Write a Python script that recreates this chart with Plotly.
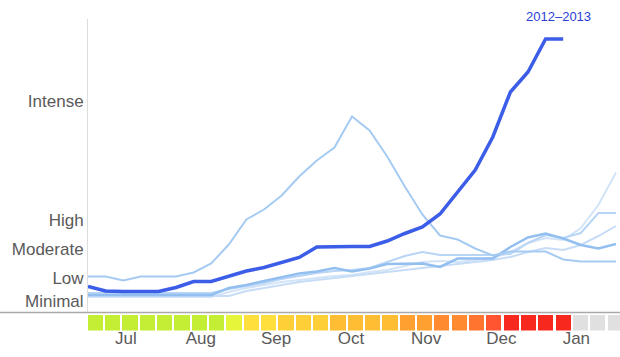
import plotly.graph_objects as go

# ---------------- data ----------------
# weekly activity index (same scale for all seasons); week index 0..30
season_2012_13 = [2.6, 2.15, 2.1, 2.1, 2.1, 2.5, 3.1, 3.1, 3.6, 4.15, 4.5, 5.0, 5.5, 6.55, 6.6,
                  6.6, 6.6, 7.15, 7.9, 8.55, 9.85, 12.05, 14.25, 17.55, 22.05, 24.05, 27.35, 27.35]

season_2009_10 = [3.6, 3.6, 3.2, 3.6, 3.6, 3.6, 4.0, 4.9, 6.8, 9.3, 10.3, 11.7, 13.6, 15.2, 16.5,
                  19.6, 18.2, 15.6, 12.6, 9.8, 7.7, 7.3, 6.4, 5.7, 6.1, 6.1, 6.1, 5.3, 5.1, 5.1, 5.1]
season_b = [1.75, 1.75, 1.75, 1.75, 1.75, 1.75, 1.75, 1.75, 2.45, 2.75, 3.15, 3.55, 3.9, 4.1, 4.45,
            4.1, 4.4, 4.85, 4.9, 4.9, 4.55, 5.4, 5.4, 5.4, 6.55, 7.5, 7.9, 7.4, 6.75, 6.4, 6.85]
season_d = [1.55, 1.55, 1.55, 1.55, 1.55, 1.55, 1.55, 1.55, 2.05, 2.45, 2.75, 3.05, 3.25, 3.45, 3.65,
            3.75, 4.05, 4.25, 4.65, 5.05, 5.15, 5.05, 5.25, 5.45, 6.05, 6.95, 7.45, 7.25, 8.45, 10.75, 14.0]
season_e = [1.95, 1.95, 1.95, 1.95, 1.95, 1.95, 1.95, 1.95, 2.35, 2.65, 2.95, 3.35, 3.65, 3.95, 4.15,
            4.25, 4.45, 5.05, 5.65, 6.05, 5.75, 5.75, 5.75, 5.75, 5.85, 6.95, 7.75, 7.45, 7.95, 9.95, 9.95]
season_f = [1.65, 1.65, 1.65, 1.65, 1.65, 1.65, 1.65, 1.65, 1.65, 2.15, 2.45, 2.75, 3.05, 3.25, 3.45,
            3.65, 3.85, 4.05, 4.25, 4.45, 4.65, 4.85, 5.05, 5.25, 5.55, 6.05, 6.45, 6.25, 6.75, 7.65, 8.65]

level_names = ["Minimal", "Low", "Moderate", "High", "Intense"]
level_values = [1.15, 3.4, 6.35, 9.25, 21.1]

# weekly activity level of the current season (1..10); None = no data yet
activity_levels = [1, 1, 1, 1, 1, 1, 1, 1, 2, 3, 3, 4, 4, 4, 5, 5, 5, 5, 6, 6, 7, 7, 8, 9,
                   10, 10, 10, 10, None, None, None]

month_labels = ["Jul", "Aug", "Sep", "Oct", "Nov", "Dec", "Jan"]
month_positions = [1.76, 6.09, 10.43, 14.76, 19.09, 23.43, 27.76]

# ---------------- styles ----------------
level_palette = {1: "#c3ee33", 2: "#e6f43a", 3: "#ffdf3c", 4: "#ffcf38", 5: "#ffbd33",
                 6: "#ffa030", 7: "#ff8a30", 8: "#ff7530", 9: "#ff5530", 10: "#f7281e"}
no_data_color = "#e0e0e0"
FONT = "Helvetica Neue, Liberation Sans, Arial, sans-serif"
TEXT_COLOR = "#5a5a5a"

W, H = 620, 357
left_px = 88
plot_top_px, plot_bottom_px = 18.5, 312.5
sq_top_px, sq_bottom_px = 315, 330.5

fig = go.Figure()

past = [
    (season_d, "#d3e4f8", 2),
    (season_f, "#c6dcf7", 2),
    (season_e, "#b9d5f5", 2),
    (season_b, "#93bff0", 2.5),
    (season_2009_10, "#a6cbf3", 2),
]
for vals, col, w in past:
    fig.add_trace(go.Scatter(x=list(range(len(vals))), y=vals, mode="lines",
                             line=dict(color=col, width=w), hoverinfo="skip",
                             showlegend=False))

fig.add_trace(go.Scatter(x=list(range(len(season_2012_13))), y=season_2012_13, mode="lines",
                         line=dict(color="#3b5de7", width=3.5), hoverinfo="skip",
                         showlegend=False))

sq_colors = [level_palette[l] if l is not None else no_data_color for l in activity_levels]
fig.add_trace(go.Bar(x=list(range(len(activity_levels))), y=[1] * len(activity_levels),
                     marker=dict(color=sq_colors, line=dict(width=0)), width=0.88,
                     xaxis="x2", yaxis="y2", hoverinfo="skip", showlegend=False))

fig.add_annotation(text="2012–2013", x=len(season_2012_13) - 1, xshift=-5,
                   xref="x", yref="paper", y=(H - 16.5) / H, yanchor="middle",
                   showarrow=False, font=dict(family=FONT, size=13, color="#2a3ed6"))

# baseline across the full width
fig.add_shape(type="line", xref="paper", yref="paper", x0=0, x1=1,
              y0=(H - plot_bottom_px) / H, y1=(H - plot_bottom_px) / H,
              line=dict(color="#a9a9a9", width=1.5))

fig.update_layout(
    width=W, height=H,
    margin=dict(l=0, r=0, t=0, b=0),
    paper_bgcolor="white", plot_bgcolor="white",
    bargap=0,
    xaxis=dict(domain=[left_px / W, 1], range=[0, (W - left_px) / 17.6],
               showgrid=False, zeroline=False, showticklabels=False, ticks="",
               showline=False, fixedrange=True),
    yaxis=dict(domain=[(H - plot_bottom_px) / H, (H - plot_top_px) / H], range=[0, 29.4],
               showgrid=False, zeroline=False, showline=True, linecolor="#dddddd", linewidth=1,
               tickvals=level_values, ticktext=level_names, ticks="",
               tickfont=dict(family=FONT, size=17, color=TEXT_COLOR)),
    xaxis2=dict(domain=[left_px / W, 1], range=[-0.42, 30.28], anchor="y2",
                showgrid=False, zeroline=False, showline=False, ticks="",
                tickvals=month_positions, ticktext=month_labels, ticklabelstandoff=-5,
                tickfont=dict(family=FONT, size=17, color=TEXT_COLOR)),
    yaxis2=dict(domain=[(H - sq_bottom_px) / H, (H - sq_top_px) / H], range=[0, 1],
                showgrid=False, zeroline=False, showticklabels=False, ticks="",
                showline=False),
)

fig.write_html("out.html", config={"displayModeBar": False, "staticPlot": True},
               post_script="document.body.style.margin='0';")
